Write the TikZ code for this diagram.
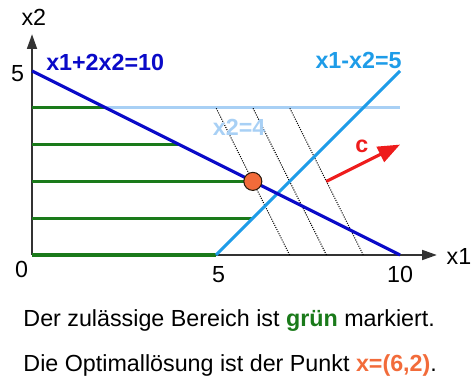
\documentclass[tikz,border=0pt]{standalone}
\usepackage{fontspec}
\setmainfont{Liberation Sans}
\usepackage{xcolor}
\usetikzlibrary{arrows.meta}
\definecolor{line-blue}{HTML}{0A0AC8}
\definecolor{sky-blue}{HTML}{1E9CE8}
\definecolor{pale-blue}{HTML}{A8D0F5}
\definecolor{field-green}{HTML}{1A7A1A}
\definecolor{goal-red}{HTML}{EE1C1C}
\definecolor{opt-orange}{HTML}{F26B3A}
\definecolor{axis-gray}{HTML}{333333}

\begin{document}
\begin{tikzpicture}[every node/.style={font=\fontsize{18}{21}\selectfont, inner sep=0pt},
    axis/.style={draw=axis-gray, line width=1.4pt, -{Triangle[length=4mm, width=2.7mm]}},
    bound/.style={line width=2.4pt},
    feasible/.style={draw=field-green, line width=2.4pt},
    isoline/.style={draw=black, densely dotted, line width=0.8pt}]
  \useasboundingbox (-0.87,-3.478) rectangle (12.01,6.929);

  % axes
  \coordinate (o) at (0,0);
  \coordinate (xend) at (11,0);
  \coordinate (yend) at (0,6);
  \draw[axis] (o) -- (xend);
  \draw[axis] (o) -- (yend);
  \node[anchor=west] (xlab) at (11.26,-0.05) {x1};
  \node (ylab) at (0.05,6.45) {x2};
  \node (y5) at (-0.39,4.92) {5};
  \node[anchor=north] (x0) at (-0.28,-0.17) {0};
  \node[anchor=north] (x5) at (5.07,-0.3) {5};
  \node[anchor=north] (x10) at (10,-0.3) {10};

  % constraint x2=4
  \coordinate (c4a) at (0,4);
  \coordinate (c4b) at (10,4);
  \draw[bound, pale-blue] (c4a) -- (c4b);

  % feasible region
  \foreach \y/\xe in {0/5, 1/6, 2/6, 3/4, 4/2}
    \draw[feasible] (0,\y) -- (\xe,\y);

  % level lines of the objective
  \foreach \a in {7,8,9}
    \draw[isoline] (\a,0) -- (\a-2,4);

  % constraints
  \coordinate (c5a) at (5,0);
  \coordinate (c5b) at (10,5);
  \draw[bound, sky-blue] (c5a) -- (c5b);
  \coordinate (c10a) at (0,5);
  \coordinate (c10b) at (10,0);
  \draw[bound, line-blue] (c10a) -- (c10b);

  % objective direction
  \coordinate (cfrom) at (8,2);
  \coordinate (cto) at (10,3);
  \draw[goal-red, line width=2.4pt, -{Triangle[length=6mm, width=4.5mm]}] (cfrom) -- (cto);
  \node[text=goal-red] (clab) at (8.96,2.95) {\textbf{c}};

  % optimum
  \node[circle, draw=black!80!brown, fill=opt-orange, line width=0.8pt,
    minimum size=4.9mm] (opt) at (6,2) {};

  \node[anchor=base west, text=line-blue] (l10) at (0.38,5.0) {\textbf{x1+2x2=10}};
  \node[anchor=base east, text=sky-blue] (l5) at (10.05,5.08) {\textbf{x1-x2=5}};
  \node[anchor=base west, text=pale-blue] (l4) at (4.91,3.26) {\textbf{x2=4}};

  % caption
  \node[anchor=base west] (txt1) at (-0.24,-1.95)
    {Der zulässige Bereich ist \textcolor{field-green}{\textbf{grün}} markiert.};
  \node[anchor=base west] (txt2) at (-0.24,-3.17)
    {Die Optimallösung ist der Punkt \textcolor{opt-orange}{\textbf{x=(6,2)}}.};
\end{tikzpicture}
\end{document}
